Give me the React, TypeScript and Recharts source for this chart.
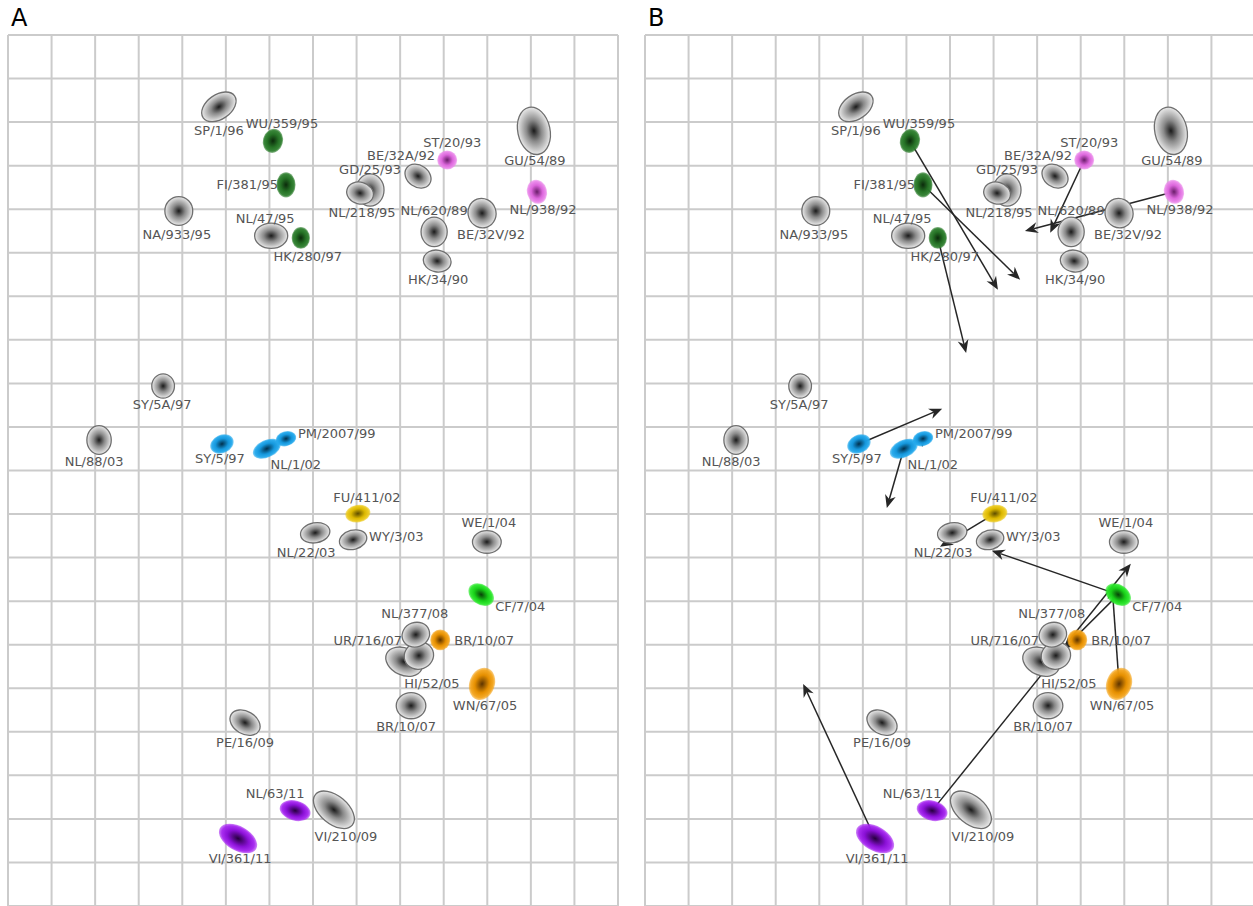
import React from 'react';
import { ScatterChart, Scatter, XAxis, YAxis, CartesianGrid, ReferenceLine } from 'recharts';

// antigenic map, one unit = one grid cell
const strains = [
  'SP/1/96', 'WU/359/95', 'FI/381/95', 'NA/933/95', 'NL/47/95', 'HK/280/97',
  'GD/25/93', 'NL/218/95', 'BE/32A/92', 'ST/20/93', 'GU/54/89', 'NL/938/92',
  'NL/620/89', 'BE/32V/92', 'HK/34/90', 'SY/5A/97', 'NL/88/03', 'SY/5/97',
  'NL/1/02', 'PM/2007/99', 'FU/411/02', 'NL/22/03', 'WY/3/03', 'WE/1/04',
  'CF/7/04', 'UR/716/07', 'HI/52/05', 'NL/377/08', 'BR/10/07', 'WN/67/05',
  'BR/10/07', 'PE/16/09', 'NL/63/11', 'VI/210/09', 'VI/361/11',
];
const mapX = [
  4.84, 6.08, 6.38, 3.92, 6.04, 6.72,
  8.31, 8.08, 9.41, 10.08, 12.07, 12.14,
  9.78, 10.88, 9.85, 3.56, 2.09, 4.91,
  5.94, 6.38, 8.03, 7.05, 7.92, 10.99,
  10.86, 9.09, 9.43, 9.36, 9.92, 10.88,
  9.25, 5.44, 6.59, 7.48, 5.28,
];
const mapY = [
  1.65, 2.43, 3.44, 4.04, 4.61, 4.66,
  3.56, 3.63, 3.24, 2.87, 2.20, 3.60,
  4.52, 4.09, 5.19, 8.06, 9.30, 9.39,
  9.50, 9.27, 10.99, 11.43, 11.59, 11.64,
  12.85, 14.39, 14.25, 13.77, 13.89, 14.90,
  15.40, 15.79, 17.81, 17.79, 18.45,
];
// uncertainty ellipses: semi-axes (map units) and tilt (degrees)
const spreadX = [
  0.44, 0.23, 0.22, 0.32, 0.38, 0.21,
  0.32, 0.31, 0.32, 0.23, 0.37, 0.23,
  0.30, 0.32, 0.32, 0.26, 0.28, 0.28,
  0.34, 0.24, 0.29, 0.34, 0.32, 0.33,
  0.32, 0.44, 0.34, 0.32, 0.23, 0.29,
  0.34, 0.37, 0.36, 0.55, 0.48,
];
const spreadY = [
  0.28, 0.28, 0.29, 0.33, 0.29, 0.25,
  0.37, 0.25, 0.25, 0.22, 0.55, 0.28,
  0.34, 0.34, 0.25, 0.28, 0.33, 0.21,
  0.20, 0.17, 0.20, 0.23, 0.22, 0.26,
  0.23, 0.31, 0.31, 0.28, 0.24, 0.38,
  0.30, 0.26, 0.23, 0.32, 0.28,
];
const tilt = [
  -35, 15, 0, 0, 0, 0,
  0, 15, 35, 0, -12, -15,
  0, -20, 10, 0, 0, -25,
  -25, -15, -10, -10, -15, 0,
  35, 25, -20, -20, 0, 20,
  0, 30, 15, 40, 30,
];
const groups = [
  'ref', 'HK95', 'HK95', 'ref', 'ref', 'HK95',
  'ref', 'ref', 'ref', 'BE92', 'ref', 'BE92',
  'ref', 'ref', 'ref', 'ref', 'ref', 'SY97',
  'SY97', 'SY97', 'FU02', 'ref', 'ref', 'ref',
  'CA04', 'ref', 'ref', 'ref', 'BR07', 'BR07',
  'ref', 'ref', 'VI11', 'ref', 'VI11',
];

// cluster transitions drawn in panel B
const shiftFrom = [
  'WU/359/95', 'FI/381/95', 'HK/280/97', 'ST/20/93', 'NL/938/92', 'SY/5/97', 'PM/2007/99',
  'NL/1/02', 'FU/411/02', 'CF/7/04', 'CF/7/04', 'NL/63/11', 'WN/67/05', 'VI/361/11',
];
const shiftToX = [8.10, 8.61, 7.37, 9.30, 8.72, 6.82, 6.36, 5.55, 6.77, 7.96, 9.59, 11.15, 10.72, 3.63];
const shiftToY = [5.85, 5.62, 7.30, 4.54, 4.50, 8.58, 9.46, 10.86, 11.75, 11.84, 14.12, 12.14, 12.65, 14.90];

const xTicks = Array.from({ length: 15 }, (_, i) => i);
const yTicks = Array.from({ length: 21 }, (_, i) => i);

// label placement around each blob: [dx, dy, anchor]
const labelPos: [number, number, string][] = [
  [0, 24, 'middle'], [9, -17, 'middle'], [-8, 0, 'end'], [-2, 24, 'middle'], [-6, -17, 'middle'], [7, 19, 'middle'],
  [0, -21, 'middle'], [2, 19, 'middle'], [-17, -21, 'middle'], [5, -17, 'middle'], [1, 30, 'middle'], [6, 18, 'middle'],
  [0, -21, 'middle'], [9, 21, 'middle'], [1, 18, 'middle'], [-1, 18, 'middle'], [-5, 21, 'middle'], [-2, 15, 'middle'],
  [29, 16, 'middle'], [12, -5, 'start'], [9, -16, 'middle'], [-9, 20, 'middle'], [16, -3, 'start'], [2, -19, 'middle'],
  [14, 12, 'start'], [-2, -21, 'end'], [13, 28, 'middle'], [-1, -21, 'middle'], [14, 1, 'start'], [3, 22, 'middle'],
  [-5, 21, 'middle'], [0, 20, 'middle'], [-20, -17, 'middle'], [12, 27, 'middle'], [2, 20, 'middle'],
];

const palette = {
  ref: ['#1a1a1a', '#8a8a8a', '#e2e2e2'],
  HK95: ['#0b2a0b', '#267326', '#2f7f2f'],
  BE92: ['#6a1d6a', '#dc66dc', '#e985e9'],
  SY97: ['#00304d', '#1597dc', '#22a8ec'],
  FU02: ['#5e4d00', '#dcb800', '#ecc91a'],
  CA04: ['#084208', '#18d018', '#2ae82a'],
  BR07: ['#5e3400', '#e58f00', '#f4a41a'],
  VI11: ['#26003e', '#8a10d6', '#a524f0'],
};

const PLOT_W = 610;
const PLOT_H = 871;
const PAD = 20;
const UNIT = PLOT_W / 14;

const points = strains.map((name, i) => ({
  name, x: mapX[i], y: mapY[i], rx: spreadX[i], ry: spreadY[i], tilt: tilt[i], group: groups[i], idx: i,
}));

const Blob = (props: any) => {
  const { cx, cy, payload, panel } = props;
  const id = `g-${panel}-${payload.idx}`;
  const [c0, c1, c2] = palette[payload.group];
  const isRef = payload.group === 'ref';
  return (
    <g transform={`translate(${cx},${cy}) rotate(${payload.tilt})`}>
      <defs>
        <radialGradient id={id}>
          <stop offset="0%" stopColor={c0} />
          {isRef ? <stop offset="45%" stopColor={c1} /> : <stop offset="55%" stopColor={c1} />}
          {isRef ? <stop offset="95%" stopColor={c2} /> : <stop offset="85%" stopColor={c2} stopOpacity={0.95} />}
          <stop offset="100%" stopColor={c2} stopOpacity={isRef ? 1 : 0.55} />
        </radialGradient>
      </defs>
      <ellipse
        rx={payload.rx * UNIT}
        ry={payload.ry * UNIT}
        fill={`url(#${id})`}
        stroke={isRef ? '#6f6f6f' : 'none'}
        strokeWidth={1.3}
      />
    </g>
  );
};

const Tag = (props: any) => {
  const { cx, cy, payload } = props;
  const [dx, dy, anchor] = labelPos[payload.idx];
  return (
    <text
      x={cx + dx}
      y={cy + dy}
      textAnchor={anchor}
      dominantBaseline="central"
      fontFamily="DejaVu Sans"
      fontSize={13}
      fill="#555555"
    >
      {payload.name}
    </text>
  );
};

const Arrow = (props: any) => {
  const { x1, y1, x2, y2 } = props;
  const dx = x2 - x1;
  const dy = y2 - y1;
  const len = Math.hypot(dx, dy) || 1;
  const ux = dx / len;
  const uy = dy / len;
  const L = 13;
  const W = 5.5;
  const N = 9;
  const bx = x2 - ux * L;
  const by = y2 - uy * L;
  const nx = x2 - ux * Math.min(N, len);
  const ny = y2 - uy * Math.min(N, len);
  const head = `${x2},${y2} ${bx - uy * W},${by + ux * W} ${nx},${ny} ${bx + uy * W},${by - ux * W}`;
  return (
    <g>
      {len > N && <line x1={x1} y1={y1} x2={nx} y2={ny} stroke="#262626" strokeWidth={1.5} />}
      <polygon points={head} fill="#262626" />
    </g>
  );
};

const Panel = ({ panel, arrows }: { panel: string; arrows: boolean }) => (
  <ScatterChart
    width={PLOT_W + PAD * 2}
    height={PLOT_H + PAD * 2}
    margin={{ top: PAD, right: PAD, bottom: PAD, left: PAD }}
  >
    <CartesianGrid stroke="#cbcbcb" strokeWidth={2} ticks={undefined} />
    <XAxis type="number" dataKey="x" domain={[0, 14]} ticks={xTicks} hide />
    <YAxis type="number" dataKey="y" domain={[0, 20]} ticks={yTicks} reversed hide />
    <Scatter
      data={points}
      isAnimationActive={false}
      shape={(p: any) => <Blob {...p} panel={panel} />}
    />
    <Scatter data={points} isAnimationActive={false} shape={(p: any) => <Tag {...p} />} />
    {arrows &&
      shiftFrom.map((name, i) => {
        const s = strains.indexOf(name);
        return (
          <ReferenceLine
            key={i}
            segment={[
              { x: mapX[s], y: mapY[s] },
              { x: shiftToX[i], y: shiftToY[i] },
            ]}
            ifOverflow="visible"
            shape={(p: any) => <Arrow {...p} />}
          />
        );
      })}
  </ScatterChart>
);

export default function App() {
  return (
    <div
      style={{
        position: 'absolute',
        left: 0,
        top: 0,
        width: 1253,
        height: 906,
        overflow: 'hidden',
        background: '#ffffff',
        fontFamily: 'DejaVu Sans',
      }}
    >
      <div style={{ position: 'absolute', left: 11, top: 4, fontSize: 24, color: '#000' }}>A</div>
      <div style={{ position: 'absolute', left: 648, top: 4, fontSize: 24, color: '#000' }}>B</div>
      <div style={{ position: 'absolute', left: 8 - PAD, top: 35 - PAD }}>
        <Panel panel="a" arrows={false} />
      </div>
      <div style={{ position: 'absolute', left: 645 - PAD, top: 35 - PAD }}>
        <Panel panel="b" arrows={true} />
      </div>
    </div>
  );
}
